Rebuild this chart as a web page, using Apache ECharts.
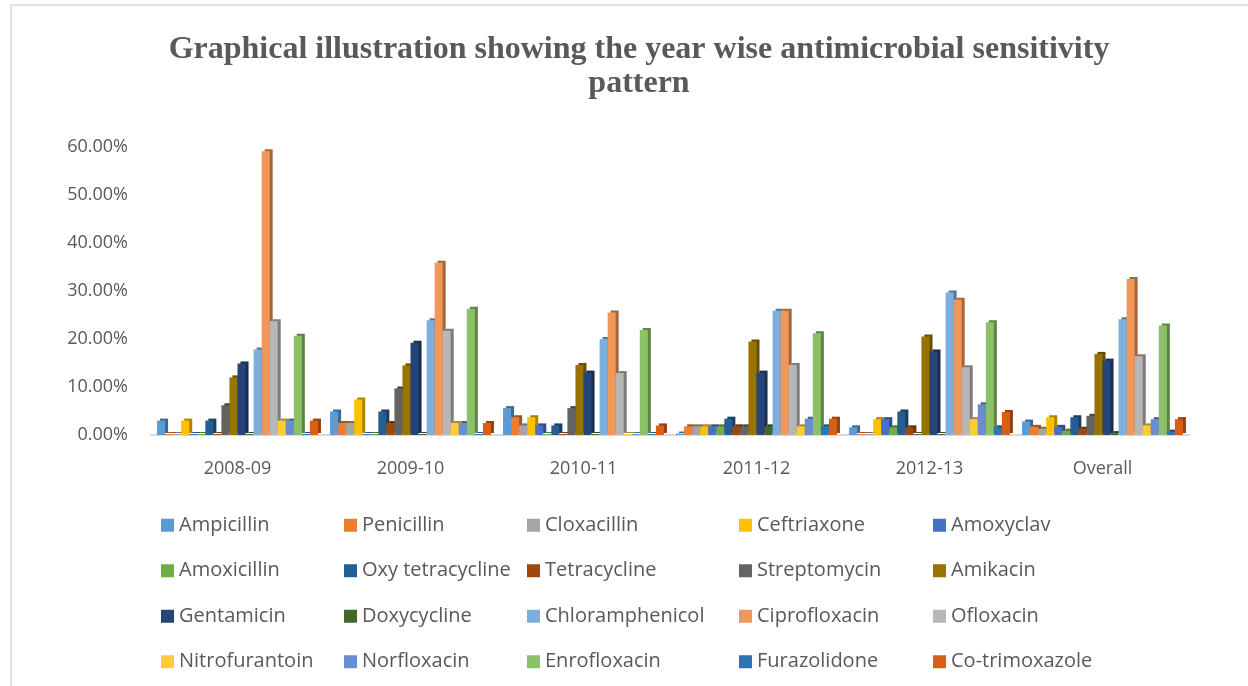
<!DOCTYPE html>
<html>
<head>
<meta charset="utf-8">
<script src="https://cdn.jsdelivr.net/npm/echarts@6/dist/echarts.min.js"></script>
<style>
  html, body { margin: 0; padding: 0; background: #fff; }
  #chart { width: 1248px; height: 686px; }
</style>
</head>
<body>
<div id="chart"></div>
<script>
// categories (x axis)
var years = ['2008-09', '2009-10', '2010-11', '2011-12', '2012-13', 'Overall'];

// antibiotics, in legend order
var drugs = ['Ampicillin', 'Penicillin', 'Cloxacillin', 'Ceftriaxone', 'Amoxyclav',
  'Amoxicillin', 'Oxy tetracycline', 'Tetracycline', 'Streptomycin', 'Amikacin',
  'Gentamicin', 'Doxycycline', 'Chloramphenicol', 'Ciprofloxacin', 'Ofloxacin',
  'Nitrofurantoin', 'Norfloxacin', 'Enrofloxacin', 'Furazolidone', 'Co-trimoxazole'];

// sensitivity (%) per year, one value per drug in the order above
var y2008 = [3.0, 0, 0, 3.0, 0, 0, 3.0, 0, 6.2, 12.0, 14.9, 0, 17.8, 59.1, 23.7, 3.0, 3.0, 20.7, 0, 3.0];
var y2009 = [4.9, 2.5, 2.5, 7.4, 0, 0, 4.9, 2.5, 9.7, 14.5, 19.2, 0, 23.9, 35.9, 21.7, 2.5, 2.5, 26.3, 0, 2.5];
var y2010 = [5.6, 3.7, 2.0, 3.7, 2.0, 0, 2.0, 0, 5.6, 14.6, 13.0, 0, 20.0, 25.5, 12.9, 0, 0, 21.9, 0, 2.0];
var y2011 = [0.3, 1.8, 1.8, 1.8, 1.8, 1.8, 3.4, 1.8, 1.8, 19.5, 13.0, 1.8, 25.9, 25.9, 14.6, 1.8, 3.4, 21.2, 1.8, 3.4];
var y2012 = [1.6, 0, 0, 3.3, 3.3, 1.6, 4.9, 1.6, 0, 20.5, 17.4, 0, 29.7, 28.2, 14.1, 3.3, 6.4, 23.5, 1.6, 4.8];
var yAll  = [2.8, 1.7, 1.3, 3.7, 1.7, 0.9, 3.7, 1.3, 4.0, 16.9, 15.5, 0.4, 24.1, 32.5, 16.4, 2.0, 3.3, 22.8, 0.7, 3.3];

var yTicks = [0, 10, 20, 30, 40, 50, 60];

var colors = ['#5B9BD5', '#ED7D31', '#A5A5A5', '#FFC000', '#4472C4', '#70AD47',
  '#255E91', '#9E480E', '#636363', '#997300', '#264478', '#43682B',
  '#7CAFDD', '#F1975A', '#B7B7B7', '#FFCD33', '#698ED0', '#8CC168',
  '#2E75B6', '#D95F17'];

// darker shade for the side/top face
function darken(hex, k) {
  var n = parseInt(hex.slice(1), 16);
  var r = Math.round(((n >> 16) & 255) * k);
  var g = Math.round(((n >> 8) & 255) * k);
  var b = Math.round((n & 255) * k);
  return 'rgb(' + r + ',' + g + ',' + b + ')';
}

var chart = echarts.init(document.getElementById('chart'));

var byYear = [y2008, y2009, y2010, y2011, y2012, yAll];
var series = drugs.map(function (name, i) {
  return {
    name: name,
    type: 'bar',
    barGap: '0%',
    barCategoryGap: '7%',
    barMinHeight: 1,
    data: byYear.map(function (row) { return row[i]; }),
    itemStyle: {
      color: colors[i],
      // fake 3d depth like the excel column chart
      shadowColor: darken(colors[i], 0.68),
      shadowBlur: 0,
      shadowOffsetX: 3,
      shadowOffsetY: -2
    }
  };
});

// legend: 5 columns x 4 rows, filled row by row
var colLeft = [161, 344, 527, 739, 933];
var legends = colLeft.map(function (x, c) {
  return {
    orient: 'vertical',
    left: x,
    top: 515,
    padding: 0,
    itemGap: 25,
    itemWidth: 13,
    itemHeight: 13,
    icon: 'rect',
    selectedMode: false,
    data: [drugs[c], drugs[c + 5], drugs[c + 10], drugs[c + 15]],
    itemStyle: { shadowBlur: 0, shadowOffsetX: 0, shadowOffsetY: 0, shadowColor: 'transparent' },
    textStyle: { fontFamily: 'Open Sans', fontSize: 20, color: '#595959', lineHeight: 20.5 }
  };
});

var option = {
  animation: false,
  title: {
    text: 'Graphical illustration showing the year wise antimicrobial sensitivity\npattern',
    left: 634,
    textAlign: 'center',
    top: 28,
    textStyle: {
      fontFamily: 'Liberation Serif',
      fontWeight: 'bold',
      fontSize: 32,
      lineHeight: 34,
      color: '#595959'
    }
  },
  graphic: [{
    type: 'rect',
    shape: { x: 11, y: 5, width: 1300, height: 760 },
    style: { fill: 'none', stroke: '#D9D9D9', lineWidth: 1.5 },
    silent: true
  }],
  legend: legends,
  grid: { left: 151, right: 59, top: 147, bottom: 251 },
  xAxis: {
    type: 'category',
    data: years,
    axisTick: { show: false },
    axisLine: { lineStyle: { color: '#D9D9D9', width: 2 } },
    axisLabel: { fontFamily: 'Open Sans', fontSize: 18, color: '#595959', margin: 25 }
  },
  yAxis: {
    type: 'value',
    min: yTicks[0],
    max: yTicks[yTicks.length - 1],
    interval: 10,
    splitLine: { show: false },
    axisLine: { show: false },
    axisTick: { show: false },
    axisLabel: {
      fontFamily: 'Open Sans',
      fontSize: 18,
      color: '#595959',
      margin: 23,
      formatter: function (v) { return v.toFixed(2) + '%'; }
    }
  },
  series: series
};

chart.setOption(option);
</script>
</body>
</html>
